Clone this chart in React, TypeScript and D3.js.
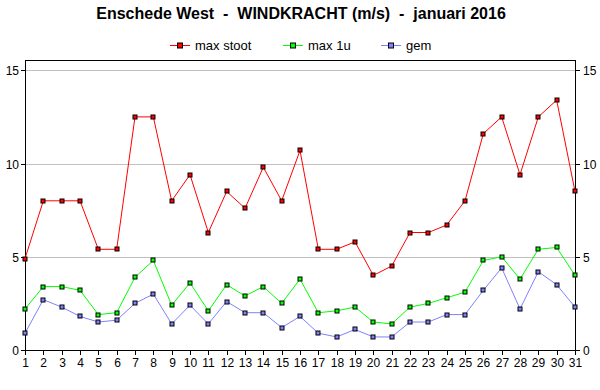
import React from 'react';
import * as d3 from 'd3';

const days = d3.range(1, 32);
const maxStoot = [4.9, 8.0, 8.0, 8.0, 5.4, 5.4, 12.5, 12.5, 8.0, 9.4, 6.3, 8.5, 7.6, 9.8, 8.0, 10.7, 5.4, 5.4, 5.8, 4.0, 4.5, 6.3, 6.3, 6.7, 8.0, 11.6, 12.5, 9.4, 12.5, 13.4, 8.5];
const max1u = [2.2, 3.4, 3.4, 3.2, 1.9, 2.0, 3.9, 4.8, 2.4, 3.6, 2.1, 3.5, 2.9, 3.4, 2.5, 3.8, 2.0, 2.1, 2.3, 1.5, 1.4, 2.3, 2.5, 2.8, 3.1, 4.8, 5.0, 3.8, 5.4, 5.5, 4.0];
const gem = [0.9, 2.7, 2.3, 1.8, 1.5, 1.6, 2.5, 3.0, 1.4, 2.4, 1.4, 2.6, 2.0, 2.0, 1.2, 1.8, 0.9, 0.7, 1.1, 0.7, 0.7, 1.5, 1.5, 1.9, 1.9, 3.2, 4.4, 2.2, 4.2, 3.5, 2.3];
const yTicks = [0, 5, 10, 15];

const series = [
  { name: 'max stoot', values: maxStoot, color: '#ff0000' },
  { name: 'max 1u', values: max1u, color: '#00ff00' },
  { name: 'gem', values: gem, color: '#8080ff' },
];

const font = '"Liberation Sans", Arial, sans-serif';

export default function App() {
  const left = 25, right = 575, top = 60, bottom = 350;
  const x = d3.scaleLinear().domain([1, 31]).range([left, right]);
  const y = d3.scaleLinear().domain([0, 15.55]).range([bottom, top]);

  const line = d3.line<number>()
    .x((d, i) => x(days[i]))
    .y(d => y(d));

  const legendX = [170, 283, 381];

  return (
    <svg width={600} height={390} style={{ position: 'absolute', left: 0, top: 0, background: '#fff' }} fontFamily={font}>
      <rect width={600} height={390} fill="#fff" />
      <text x={301} y={19} textAnchor="middle" fontSize={16} fontWeight="bold" style={{ whiteSpace: 'pre' }}>
        Enschede West  -  WINDKRACHT (m/s)  -  januari 2016
      </text>

      {series.map((s, i) => (
        <g key={s.name} transform={`translate(${legendX[i]},45)`}>
          <line x1={0} x2={20} y1={0.5} y2={0.5} stroke={s.color} />
          <rect x={7.5} y={-2} width={5} height={5} fill={s.color} stroke="#000" />
          <text x={25} y={5} fontSize={13}>{s.name}</text>
        </g>
      ))}

      {yTicks.filter(t => t > 0).map(t => (
        <line key={t} x1={left} x2={right} y1={Math.round(y(t)) + 0.5} y2={Math.round(y(t)) + 0.5} stroke="#c0c0c0" />
      ))}

      <rect x={left + 0.5} y={top + 0.5} width={right - left} height={bottom - top} fill="none" stroke="#000" />

      {yTicks.map(t => {
        const yy = Math.round(y(t)) + 0.5;
        return (
          <g key={t} fontSize={12}>
            <line x1={left - 4} x2={left} y1={yy} y2={yy} stroke="#000" />
            <text x={left - 6} y={yy + 4} textAnchor="end">{t}</text>
            <line x1={right} x2={right + 5} y1={yy} y2={yy} stroke="#000" />
            <text x={right + 8} y={yy + 4}>{t}</text>
          </g>
        );
      })}

      {days.map(d => {
        const xx = Math.round(x(d)) + 0.5;
        return (
          <g key={d} fontSize={12}>
            <line x1={xx} x2={xx} y1={bottom} y2={bottom + 5} stroke="#000" />
            <text x={xx} y={bottom + 17} textAnchor="middle">{d}</text>
          </g>
        );
      })}

      {series.map(s => (
        <g key={s.name}>
          <path d={line(s.values) || ''} fill="none" stroke={s.color} strokeWidth={1} />
          {s.values.map((v, i) => (
            <rect key={i} x={Math.round(x(days[i])) - 2} y={Math.round(y(v)) - 2} width={4} height={4} fill={s.color} stroke="#000" strokeWidth={1} />
          ))}
        </g>
      ))}
    </svg>
  );
}
